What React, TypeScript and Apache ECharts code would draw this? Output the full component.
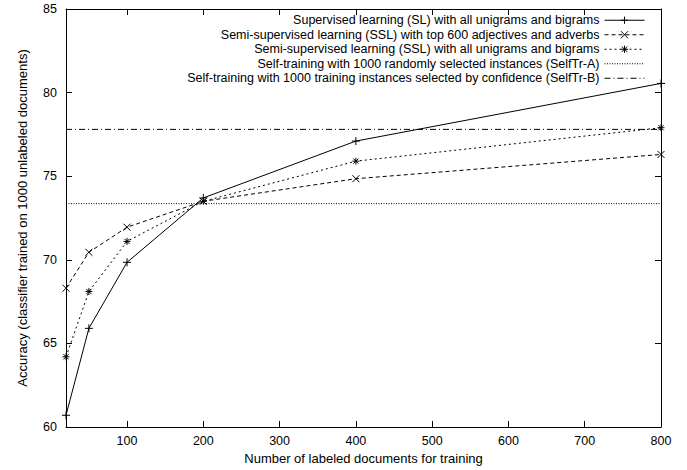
import React, { useEffect, useRef } from "react";
import * as echarts from "echarts";

const xValues = [20, 50, 100, 200, 400, 800];
const slValues = [60.7, 65.9, 69.85, 73.7, 77.1, 80.55];
const sslAdjValues = [68.3, 70.45, 71.95, 73.5, 74.85, 76.3];
const sslAllValues = [64.2, 68.1, 71.1, 73.5, 75.9, 77.9];
const selfTrA = 73.36;
const selfTrB = 77.8;
const xTicks = [100, 200, 300, 400, 500, 600, 700, 800];
const xRange = [20, 800];
const yRange = [60, 85];

const seriesNames = [
  "Supervised learning (SL) with all unigrams and bigrams",
  "Semi-supervised learning (SSL) with top 600 adjectives and adverbs",
  "Semi-supervised learning (SSL) with all unigrams and bigrams",
  "Self-training with 1000 randomly selected instances (SelfTr-A)",
  "Self-training with 1000 training instances selected by confidence (SelfTr-B)",
];

const PLUS = "path://M0,4L8,4M4,0L4,8";
const CROSS = "path://M0,0L8,8M8,0L0,8";
const STAR = "path://M0,4L8,4M4,0L4,8M1,1L7,7M7,1L1,7";

const FONT = "'Liberation Sans', Arial, Helvetica, sans-serif";

export default function App() {
  const ref = useRef<HTMLDivElement>(null);
  useEffect(() => {
    if (!ref.current) return;
    const chart = echarts.init(ref.current, undefined, { renderer: "svg" });
    const pairs = (ys: number[]) => xValues.map((x, i) => [x, ys[i]]);
    const flat = (v: number) => [[xRange[0], v], [xRange[1], v]];
    const markerStyle = { color: "#000", borderColor: "#000", borderWidth: 1 };
    const axisCommon = {
      type: "value" as const,
      axisLine: { show: true, lineStyle: { color: "#000", width: 1 } },
      splitLine: { show: false },
    };
    chart.setOption({
      animation: false,
      textStyle: { fontFamily: FONT },
      grid: { left: 66, right: 26, top: 9, bottom: 42 },
      legend: {
        orient: "vertical",
        align: "right",
        right: 42,
        top: 13,
        padding: 0,
        itemGap: 0,
        itemWidth: 40,
        itemHeight: 9,
        selectedMode: false,
        textStyle: { fontSize: 12.5, color: "#000", lineHeight: 14.5, fontFamily: FONT },
        itemStyle: { borderWidth: 1, borderColor: "#000" },
        lineStyle: { width: 1 },
        data: [
          seriesNames[0],
          seriesNames[1],
          seriesNames[2],
          { name: seriesNames[3], itemStyle: { opacity: 0 } },
          { name: seriesNames[4], itemStyle: { opacity: 0 } },
        ],
      },
      xAxis: [
        {
          ...axisCommon,
          min: xRange[0],
          max: xRange[1],
          name: "Number of labeled documents for training",
          nameLocation: "middle",
          nameGap: 25,
          nameTextStyle: { fontSize: 13, color: "#000", fontFamily: FONT },
          axisTick: { show: true, inside: true, length: 6, lineStyle: { color: "#000" }, customValues: xTicks },
          axisLabel: { fontSize: 12.5, color: "#000", margin: 7, customValues: xTicks, fontFamily: FONT },
        },
        {
          ...axisCommon,
          position: "top",
          min: xRange[0],
          max: xRange[1],
          axisTick: { show: true, inside: true, length: 6, lineStyle: { color: "#000" }, customValues: xTicks },
          axisLabel: { show: false },
        },
      ],
      yAxis: [
        {
          ...axisCommon,
          min: yRange[0],
          max: yRange[1],
          interval: 5,
          name: "Accuracy (classifier trained on 1000 unlabeled documents)",
          nameLocation: "middle",
          nameGap: 37,
          nameTextStyle: { fontSize: 13, color: "#000", fontFamily: FONT },
          axisTick: { show: true, inside: true, length: 6, lineStyle: { color: "#000" } },
          axisLabel: { fontSize: 12.5, color: "#000", margin: 9, fontFamily: FONT },
        },
        {
          ...axisCommon,
          position: "right",
          min: yRange[0],
          max: yRange[1],
          interval: 5,
          axisTick: { show: true, inside: true, length: 6, lineStyle: { color: "#000" } },
          axisLabel: { show: false },
        },
      ],
      series: [
        {
          name: seriesNames[0],
          type: "line",
          data: pairs(slValues),
          symbol: PLUS,
          symbolSize: 8,
          itemStyle: markerStyle,
          lineStyle: { color: "#000", width: 1, type: "solid" },
        },
        {
          name: seriesNames[1],
          type: "line",
          data: pairs(sslAdjValues),
          symbol: CROSS,
          symbolSize: 7,
          itemStyle: markerStyle,
          lineStyle: { color: "#000", width: 1, type: [4, 3] },
        },
        {
          name: seriesNames[2],
          type: "line",
          data: pairs(sslAllValues),
          symbol: STAR,
          symbolSize: 7,
          itemStyle: markerStyle,
          lineStyle: { color: "#000", width: 1, type: [2, 3] },
        },
        {
          name: seriesNames[3],
          type: "line",
          data: flat(selfTrA),
          symbol: "none",
          lineStyle: { color: "#000", width: 1, type: [1, 1.5] },
          itemStyle: { color: "#000" },
        },
        {
          name: seriesNames[4],
          type: "line",
          data: flat(selfTrB),
          symbol: "none",
          lineStyle: { color: "#000", width: 1, type: [6, 3, 1, 3] },
          itemStyle: { color: "#000" },
        },
      ],
    });
    return () => chart.dispose();
  }, []);
  return <div ref={ref} style={{ width: 687, height: 470, position: "absolute", left: 0, top: 0 }} />;
}
